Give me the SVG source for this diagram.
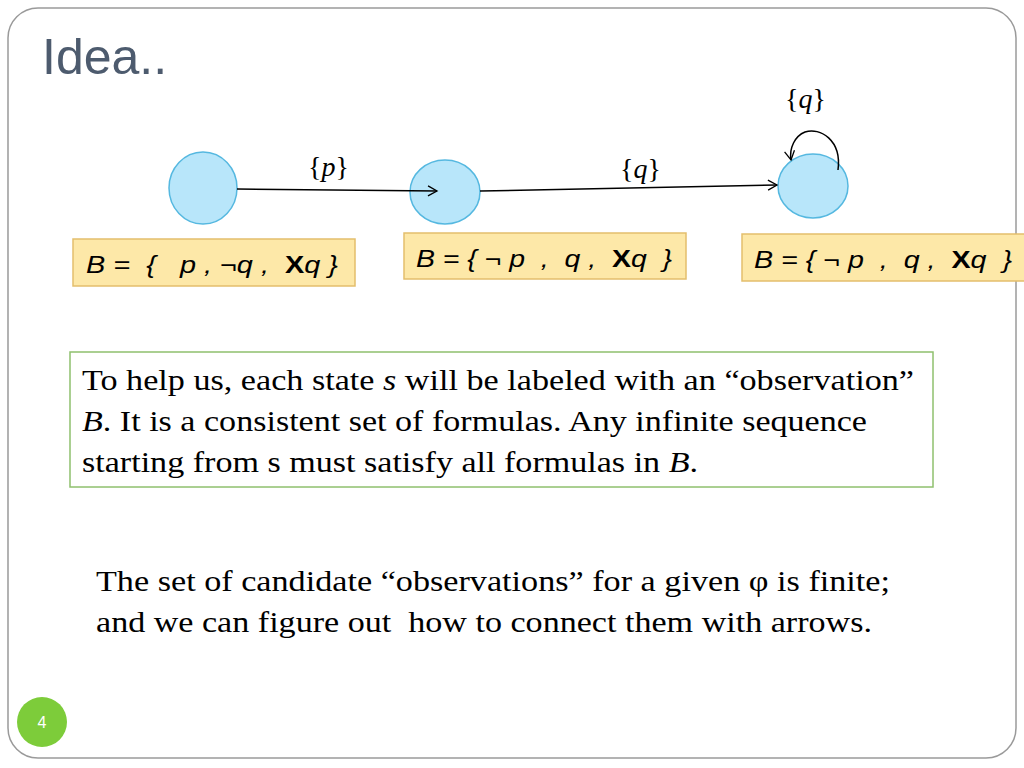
<svg xmlns="http://www.w3.org/2000/svg" width="1024" height="768" viewBox="0 0 1024 768">
<style>
.n{fill:#b8e6fa;stroke:#55b8e0;stroke-width:1.5}
.b{fill:#fde8a8;stroke:#e3be6c;stroke-width:1.5}
.bt{font-family:'Liberation Sans',Arial,sans-serif;font-size:24px;font-style:italic;fill:#000;white-space:pre}
.lb{font-family:'Liberation Serif','Times New Roman',serif;font-size:28px;fill:#000}
.tx{font-family:'Liberation Serif','Times New Roman',serif;font-size:30px;fill:#000}
</style>
<defs>
<marker id="a" markerWidth="12" markerHeight="12" refX="10" refY="6" orient="auto" markerUnits="userSpaceOnUse">
<path d="M1,1 L10,6 L1,11" fill="none" stroke="#000" stroke-width="1.3"/>
</marker>
</defs>
<rect width="1024" height="768" fill="#fff"/>
<rect x="8" y="8" width="1008" height="750" rx="30" fill="none" stroke="#9a9a9a" stroke-width="1.5"/>
<text x="42" y="74" font-family="Liberation Sans,sans-serif" font-size="50" fill="#4d5b6e">Idea..</text>
<g id="s1"><ellipse class="n" cx="203" cy="188" rx="34" ry="36"/></g>
<g id="s2"><ellipse class="n" cx="445" cy="192" rx="35" ry="32"/></g>
<g id="s3"><ellipse class="n" cx="813" cy="186" rx="35" ry="32"/></g>
<g id="connectors" fill="none" stroke="#000" stroke-width="1.5">
<line x1="237" y1="189" x2="437" y2="191" marker-end="url(#a)"/>
<line x1="480" y1="191" x2="777" y2="185" marker-end="url(#a)"/>
<path d="M838,170 C842,140 820,127 805,132 C795,136 789,148 791,160" marker-end="url(#a)"/>
</g>
<g id="labels">
<text class="lb" x="308" y="176">{<tspan font-style="italic">p</tspan>}</text>
<text class="lb" x="620" y="178">{<tspan font-style="italic">q</tspan>}</text>
<text class="lb" x="785" y="108">{<tspan font-style="italic">q</tspan>}</text>
</g>
<g id="b1"><rect class="b" x="73" y="239" width="282" height="47"/>
<text class="bt" x="86" y="273" xml:space="preserve" textLength="252" lengthAdjust="spacingAndGlyphs">B =  {   p , ¬q ,  <tspan font-style="normal" font-weight="bold">X</tspan>q }</text></g>
<g id="b2"><rect class="b" x="404" y="233" width="282" height="46"/>
<text class="bt" x="416" y="267" xml:space="preserve" textLength="256" lengthAdjust="spacingAndGlyphs">B = { ¬ p  ,  q ,  <tspan font-style="normal" font-weight="bold">X</tspan>q  }</text></g>
<g id="b3"><rect class="b" x="742" y="234" width="290" height="47"/>
<text class="bt" x="754" y="268" xml:space="preserve" textLength="258" lengthAdjust="spacingAndGlyphs">B = { ¬ p  ,  q ,  <tspan font-style="normal" font-weight="bold">X</tspan>q  }</text></g>
<g id="note"><rect x="70" y="352" width="863" height="135" fill="#fff" stroke="#8fc06e" stroke-width="1.5"/>
<text class="tx" x="82" y="390" textLength="832" lengthAdjust="spacingAndGlyphs">To help us, each state <tspan font-style="italic">s</tspan> will be labeled with an “observation”</text>
<text class="tx" x="82" y="431" textLength="785" lengthAdjust="spacingAndGlyphs"><tspan font-style="italic">B</tspan>. It is a consistent set of formulas. Any infinite sequence</text>
<text class="tx" x="82" y="472" textLength="616" lengthAdjust="spacingAndGlyphs">starting from s must satisfy all formulas in <tspan font-style="italic">B</tspan>.</text></g>
<text class="tx" x="96" y="591" textLength="794" lengthAdjust="spacingAndGlyphs">The set of candidate “observations” for a given φ is finite;</text>
<text class="tx" x="96" y="632" textLength="776" lengthAdjust="spacingAndGlyphs" xml:space="preserve">and we can figure out  how to connect them with arrows.</text>
<circle cx="42" cy="722" r="25" fill="#7dcc3a"/>
<text x="42" y="728" text-anchor="middle" font-family="Liberation Sans,sans-serif" font-size="16" fill="#fff">4</text>
</svg>
